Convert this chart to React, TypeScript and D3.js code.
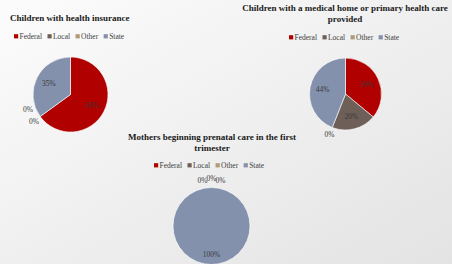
import { useEffect, useRef } from 'react'
import * as d3 from 'd3'

const categories = ['Federal', 'Local', 'Other', 'State']
const colors = ['#b00000', '#6e5f58', '#b09a78', '#8391ad']

const insuranceValues = [65, 0, 0, 35]
const medicalHomeValues = [36, 20, 0, 44]
const prenatalValues = [0, 0, 0, 100]

const width = 452
const height = 264

type PieProps = {
  title: string[]
  values: number[]
  titleX: number
  titleY: number
  titleAnchor: 'start' | 'middle'
  legendX: number
  legendY: number
  cx: number
  cy: number
  r: number
}

function textWidth(label: string, font: string): number {
  const canvas = document.createElement('canvas')
  const ctx = canvas.getContext('2d')
  if (!ctx) return label.length * 4
  ctx.font = font
  return ctx.measureText(label).width
}

function PieChart({ title, values, titleX, titleY, titleAnchor, legendX, legendY, cx, cy, r }: PieProps) {
  const ref = useRef<SVGGElement | null>(null)

  useEffect(() => {
    const node = ref.current
    if (!node) return
    const g = d3.select(node)
    g.selectAll('*').remove()

    // title
    const t = g
      .append('text')
      .attr('x', titleX)
      .attr('y', titleY)
      .attr('text-anchor', titleAnchor)
      .attr('font-family', '"Liberation Serif", "Times New Roman", serif')
      .attr('font-weight', 'bold')
      .attr('font-size', 9)
      .attr('fill', '#1a1a1a')
    title.forEach((line, i) => {
      t.append('tspan').attr('x', titleX).attr('dy', i === 0 ? 0 : 11).text(line)
    })

    // legend
    const legendFont = '7.5px "Liberation Serif"'
    let lx = legendX
    categories.forEach((cat, i) => {
      const item = g.append('g').attr('transform', `translate(${lx},${legendY})`)
      item.append('rect').attr('x', 0).attr('y', -4.8).attr('width', 4.2).attr('height', 4.2).attr('fill', colors[i])
      item
        .append('text')
        .attr('x', 5.5)
        .attr('y', 0)
        .attr('font-family', '"Liberation Serif", serif')
        .attr('font-size', 7.5)
        .attr('fill', '#404040')
        .text(cat)
      lx += 5.5 + textWidth(cat, legendFont) + 5.5
    })

    // pie
    const pie = d3
      .pie<number>()
      .sort(null)
      .value((d) => d)
    const arcs = pie(values)
    const arc = d3.arc<d3.PieArcDatum<number>>().innerRadius(0).outerRadius(r)
    const total = d3.sum(values)

    const pg = g.append('g').attr('transform', `translate(${cx},${cy})`)
    pg.selectAll('path')
      .data(arcs.filter((a) => a.value > 0))
      .join('path')
      .attr('d', arc)
      .attr('fill', (d) => colors[d.index])
      .attr('stroke', '#ffffff')
      .attr('stroke-width', 0.6)

    const pct = d3.format('.0%')
    let zeroCount = 0
    arcs.forEach((a) => {
      const mid = (a.startAngle + a.endAngle) / 2
      let rr = a.value === total ? r * 0.74 : r * 0.65
      let dx = 0
      let dy = 0
      if (a.value === 0) {
        rr = r * 1.2
        const lower = Math.cos(mid) < 0
        if (lower) {
          dx = -zeroCount * 6
          dy = -zeroCount * 12
        } else {
          dx = (zeroCount === 0 ? 0 : zeroCount === 1 ? -1 : 1) * 9
          dy = zeroCount === 0 ? -1 : 1
        }
        zeroCount += 1
      }
      const x = Math.sin(mid) * rr + dx
      const y = -Math.cos(mid) * rr + dy
      pg.append('text')
        .attr('x', x)
        .attr('y', y)
        .attr('dy', '0.35em')
        .attr('text-anchor', 'middle')
        .attr('font-family', '"Liberation Serif", serif')
        .attr('font-size', 7.5)
        .attr('fill', '#3a3a3a')
        .text(pct(a.value / total))
    })
  }, [title, values, titleX, titleY, titleAnchor, legendX, legendY, cx, cy, r])

  return <g ref={ref} />
}

export default function App() {
  return (
    <svg width={width} height={height} style={{ position: 'absolute', left: 0, top: 0 }}>
      <defs>
        <linearGradient id="bg" x1="0" y1="0" x2="1" y2="1">
          <stop offset="0%" stopColor="#fcfcfc" />
          <stop offset="100%" stopColor="#e3e3e3" />
        </linearGradient>
      </defs>
      <rect width={width} height={height} fill="url(#bg)" />
      <PieChart
        title={['Children with health insurance']}
        values={insuranceValues}
        titleX={10}
        titleY={21}
        titleAnchor="start"
        legendX={14}
        legendY={39}
        cx={70.5}
        cy={94.5}
        r={37.5}
      />
      <PieChart
        title={['Children with a medical home or primary health care', 'provided']}
        values={medicalHomeValues}
        titleX={345}
        titleY={11}
        titleAnchor="middle"
        legendX={289}
        legendY={40}
        cx={345.5}
        cy={94}
        r={36}
      />
      <PieChart
        title={['Mothers beginning prenatal care in the first', 'trimester']}
        values={prenatalValues}
        titleX={212}
        titleY={140}
        titleAnchor="middle"
        legendX={154}
        legendY={168}
        cx={211.5}
        cy={226}
        r={38.5}
      />
    </svg>
  )
}
